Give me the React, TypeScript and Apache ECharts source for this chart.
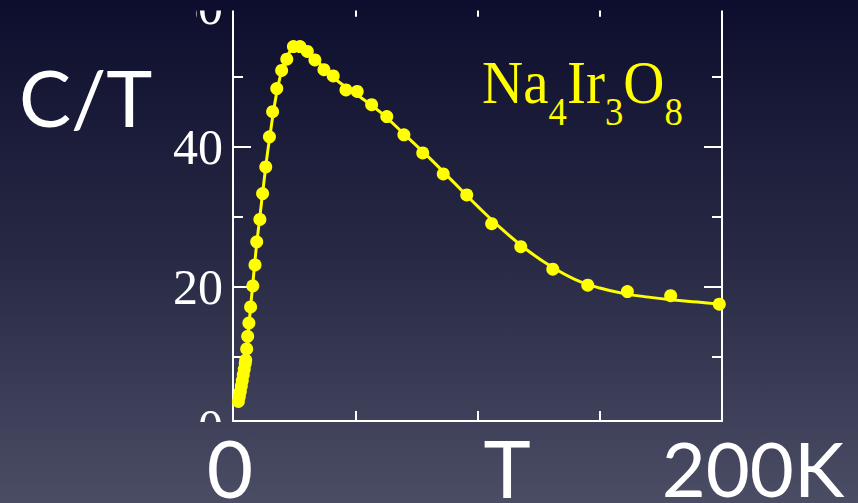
import React, { useEffect, useRef } from "react";
import * as echarts from "echarts";

// Specific heat of Na4Ir3O8, C/T versus temperature T (K): measured points
const temperatureK = [
  2.2, 2.6, 3.0, 3.4, 3.8, 4.2, 4.6, 5.0, 5.2, 5.6, 6.0, 6.5, 7.2, 8.1, 9.0, 9.7,
  11.0, 12.1, 13.4, 14.9, 16.2, 17.9, 19.9, 22.0, 24.7, 27.4, 30.4, 33.5, 37.2,
  41.0, 46.2, 50.8, 56.7, 62.9, 69.9, 77.6, 86.0, 95.6, 105.8, 117.7, 130.8,
  145.1, 161.3, 179.0, 198.9,
];
const cOverT = [
  3.6, 4.3, 5.0, 5.8, 6.6, 7.4, 8.2, 9.0, 9.5, 11.1, 12.9, 14.8, 17.1, 20.1, 23.1,
  26.4, 29.6, 33.3, 37.1, 41.4, 45.0, 48.3, 50.9, 52.5, 54.3, 54.3, 53.6, 52.4,
  51.0, 50.1, 48.1, 47.9, 46.0, 44.3, 41.7, 39.1, 36.1, 33.1, 29.0, 25.7, 22.5,
  20.2, 19.3, 18.7, 17.5,
];

// Guide curve drawn through the points
const curveT = [
  2.2, 3.5, 5.0, 6.5, 8.0, 9.5, 11.0, 12.5, 14.0, 15.5, 17.0, 18.5, 20.0, 22.0,
  24.0, 26.0, 28.0, 30.0, 33.0, 37.0, 42.0, 50.0, 60.0, 70.0, 80.0, 90.0, 100.0,
  110.0, 120.0, 130.0, 140.0, 150.0, 160.0, 170.0, 180.0, 190.0, 199.0,
];
const curveC = [
  3.4, 6.0, 9.0, 14.5, 20.0, 25.5, 30.0, 34.5, 38.8, 42.5, 46.0, 48.8, 50.9, 52.8,
  53.9, 54.3, 54.2, 53.8, 52.8, 51.3, 49.6, 47.6, 45.0, 41.8, 38.5, 35.0, 31.5,
  28.2, 25.3, 22.9, 21.0, 19.8, 19.0, 18.5, 18.1, 17.8, 17.5,
];

// Axis ranges and tick spacing
const xRange = [0, 200];
const xTickStep = 50;
const yTickRange = [0, 60];
const yTickStep = 20;
const yFrameMin = 0.8;

// Slide captions
const yCaption = "C/T";
const xCaptions = ["0", "T", "200K"];

const WIDTH = 858;
const HEIGHT = 503;
const YELLOW = "#ffff00";
const WHITE = "#ffffff";

const bgStops = [
  { offset: 0, color: "#0d0e2d" },
  { offset: 0.5, color: "#272944" },
  { offset: 1, color: "#4b4d65" },
];
const bgGradient = () =>
  new echarts.graphic.LinearGradient(0, 0, 0, HEIGHT, bgStops, true);

export default function App() {
  const ref = useRef<HTMLDivElement>(null);

  useEffect(() => {
    if (!ref.current) return;
    const chart = echarts.init(ref.current, undefined, { renderer: "svg" });

    const gridBox = { left: 233, right: WIDTH - 722, outerBoundsMode: "none", containLabel: false };
    const frameLine = { show: true, onZero: false, lineStyle: { color: WHITE, width: 2 } };
    const xTick = { show: true, inside: true, length: 10, lineStyle: { color: WHITE, width: 2 } };
    const yMajorTick = { show: true, inside: true, length: 18, lineStyle: { color: WHITE, width: 2 } };
    const yMinorTick = { show: true, splitNumber: 2, length: 10, lineStyle: { color: WHITE, width: 2 } };
    const sansCaption = {
      fill: WHITE,
      fontFamily: "Lato",
      fontSize: 80,
      textVerticalAlign: "middle",
    };

    chart.setOption({
      animation: false,
      backgroundColor: bgGradient(),
      grid: [
        { ...gridBox, top: 6.7, bottom: HEIGHT - 421 },
        { ...gridBox, top: 6.7, bottom: HEIGHT - 426.7 },
      ],
      xAxis: [
        {
          gridIndex: 0,
          type: "value",
          min: xRange[0],
          max: xRange[1],
          interval: xTickStep,
          position: "bottom",
          axisLine: frameLine,
          axisTick: xTick,
          axisLabel: { show: false },
          splitLine: { show: false },
        },
        {
          gridIndex: 0,
          type: "value",
          min: xRange[0],
          max: xRange[1],
          interval: xTickStep,
          position: "top",
          axisLine: frameLine,
          axisTick: xTick,
          axisLabel: { show: false },
          splitLine: { show: false },
        },
        {
          gridIndex: 1,
          type: "value",
          min: xRange[0],
          max: xRange[1],
          show: false,
        },
      ],
      yAxis: [
        {
          gridIndex: 0,
          type: "value",
          min: yFrameMin,
          max: yTickRange[1],
          position: "left",
          axisLine: frameLine,
          axisTick: { show: false },
          axisLabel: { show: false },
          splitLine: { show: false },
        },
        {
          gridIndex: 0,
          type: "value",
          min: yFrameMin,
          max: yTickRange[1],
          position: "right",
          axisLine: frameLine,
          axisTick: { show: false },
          axisLabel: { show: false },
          splitLine: { show: false },
        },
        {
          gridIndex: 1,
          type: "value",
          min: yTickRange[0],
          max: yTickRange[1],
          interval: yTickStep,
          position: "left",
          axisLine: { show: false },
          axisTick: yMajorTick,
          minorTick: yMinorTick,
          axisLabel: {
            show: true,
            margin: 10,
            color: WHITE,
            fontFamily: "Liberation Serif",
            fontSize: 50,
          },
          splitLine: { show: false },
          minorSplitLine: { show: false },
        },
        {
          gridIndex: 1,
          type: "value",
          min: yTickRange[0],
          max: yTickRange[1],
          interval: yTickStep,
          position: "right",
          axisLine: { show: false },
          axisTick: yMajorTick,
          minorTick: yMinorTick,
          axisLabel: { show: false },
          splitLine: { show: false },
          minorSplitLine: { show: false },
        },
      ],
      series: [
        {
          type: "line",
          xAxisIndex: 0,
          yAxisIndex: 0,
          data: curveT.map((t, i) => [t, curveC[i]]),
          smooth: 0.4,
          showSymbol: false,
          clip: false,
          lineStyle: { color: YELLOW, width: 3 },
          z: 3,
        },
        {
          type: "scatter",
          xAxisIndex: 0,
          yAxisIndex: 0,
          data: temperatureK.map((t, i) => [t, cOverT[i]]),
          symbol: "circle",
          symbolSize: 13,
          clip: false,
          itemStyle: { color: YELLOW, opacity: 1 },
          z: 4,
        },
      ],
      graphic: [
        // strips that trim the plot frame where the figure was cropped
        { type: "rect", z: 100, shape: { x: 0, y: 0, width: WIDTH, height: 10.5 }, style: { fill: bgGradient() } },
        { type: "rect", z: 100, shape: { x: 150, y: 0, width: 46, height: 34 }, style: { fill: bgGradient() } },
        { type: "rect", z: 100, shape: { x: 150, y: 422, width: 600, height: 24 }, style: { fill: bgGradient() } },
        {
          type: "text",
          z: 200,
          x: 19,
          y: 97,
          style: { ...sansCaption, text: yCaption, textAlign: "left", fontSize: 78 },
        },
        {
          type: "text",
          z: 200,
          x: 230,
          y: 467,
          style: { ...sansCaption, text: xCaptions[0], textAlign: "center" },
        },
        {
          type: "text",
          z: 200,
          x: 507,
          y: 467,
          style: { ...sansCaption, text: xCaptions[1], textAlign: "center" },
        },
        {
          type: "text",
          z: 200,
          x: 753,
          y: 467,
          style: { ...sansCaption, text: xCaptions[2], textAlign: "center", fontSize: 76 },
        },
        {
          type: "text",
          z: 200,
          x: 482,
          y: 51,
          scaleX: 0.92,
          style: {
            text: "{m|Na}{s|4}{m|Ir}{s|3}{m|O}{s|8}",
            textAlign: "left",
            textVerticalAlign: "top",
            fill: YELLOW,
            rich: {
              m: {
                fontFamily: "Liberation Serif",
                fontSize: 62,
                lineHeight: 62,
                verticalAlign: "top",
                fill: YELLOW,
              },
              s: {
                fontFamily: "Liberation Serif",
                fontSize: 40,
                lineHeight: 40,
                padding: [40, 0, 0, 0],
                verticalAlign: "top",
                fill: YELLOW,
              },
            },
          },
        },
      ],
    });

    return () => chart.dispose();
  }, []);

  return (
    <div
      ref={ref}
      style={{ width: WIDTH, height: HEIGHT, position: "fixed", left: 0, top: 0 }}
    />
  );
}
